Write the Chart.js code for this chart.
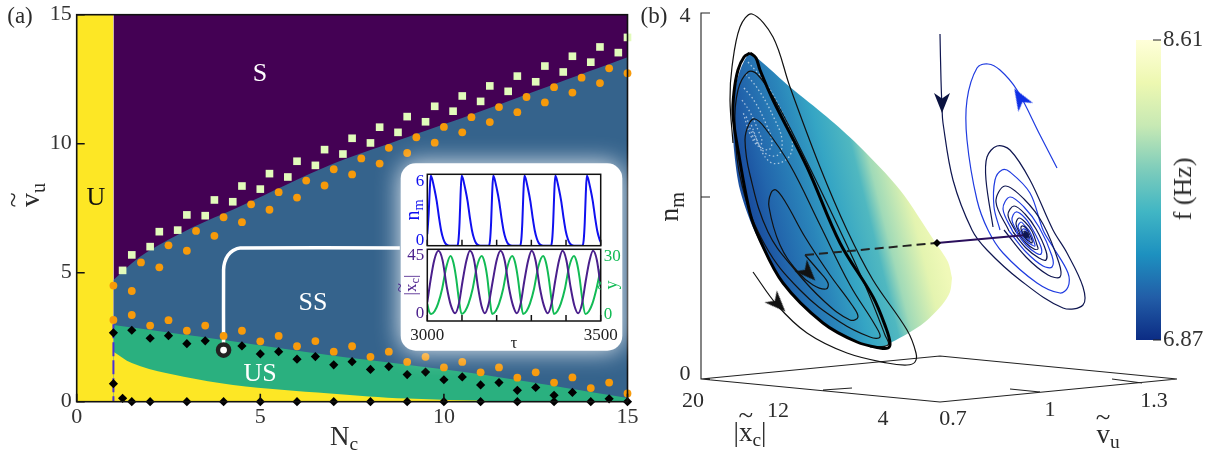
<!DOCTYPE html>
<html>
<head>
<meta charset="utf-8">
<script src="https://cdn.jsdelivr.net/npm/chart.js@4"></script>
<style>
  html, body { margin: 0; padding: 0; background: #fff; }
  #page { position: relative; width: 1217px; height: 459px; overflow: hidden; font-family: "Liberation Serif", serif; color: #2b2b2b; }
  canvas { position: absolute; }
  .t { position: absolute; transform: translate(-50%, -50%); white-space: nowrap; line-height: 1; }
  .r { transform: translate(-50%, -50%) rotate(-90deg); }
  .tl { position: relative; display: inline-block; }
  .tl i { position: absolute; left: 50%; top: -0.62em; transform: translateX(-50%); font-style: normal; }
  sub { font-size: 0.72em; line-height: 0; vertical-align: -0.28em; }
</style>
</head>
<body>
<div id="page">
  <canvas id="mainChart" style="left:0;top:0"></canvas>
  <canvas id="nmChart" style="left:400px;top:164px"></canvas>
  <canvas id="xyChart" style="left:400px;top:240px"></canvas>
  <canvas id="cycleChart" style="left:640px;top:0"></canvas>
  <canvas id="barChart" style="left:1120px;top:20px"></canvas>

  <div class="t" style="left:20px;top:15px;font-size:23px">(a)</div>
  <div class="t" style="left:654px;top:15px;font-size:23px">(b)</div>
  <div class="t" style="left:96px;top:197px;font-size:26px;color:#111">U</div>
  <div class="t" style="left:260px;top:73px;font-size:26px;color:#fff">S</div>
  <div class="t" style="left:313px;top:302px;font-size:26px;color:#fff">SS</div>
  <div class="t" style="left:260px;top:373px;font-size:26px;color:#fff">US</div>
  <div class="t r" style="left:30px;top:195px;font-size:28px"><span class="tl">v<i>~</i></span><sub>u</sub></div>
  <div class="t" style="left:344px;top:436px;font-size:27px">N<sub>c</sub></div>

  <div class="t r" style="left:412px;top:210px;font-size:20px;color:#1010f0">n<sub>m</sub></div>
  <div class="t r" style="left:410px;top:285px;font-size:17px;color:#4a1f8c">|<span class="tl">x<i>~</i></span><sub>c</sub>|</div>
  <div class="t r" style="left:611px;top:285px;font-size:18px;color:#12bb55"><span class="tl">y<i>~</i></span></div>
  <div class="t" style="left:514px;top:342px;font-size:17px">τ</div>

  <div class="t" style="left:685px;top:15px;font-size:22px">4</div>
  <div class="t" style="left:685px;top:373px;font-size:22px">0</div>
  <div class="t r" style="left:669px;top:207px;font-size:28px">n<sub>m</sub></div>
  <div class="t" style="left:693px;top:400px;font-size:22px">20</div>
  <div class="t" style="left:778px;top:410px;font-size:22px">12</div>
  <div class="t" style="left:883px;top:418px;font-size:22px">4</div>
  <div class="t" style="left:953px;top:418px;font-size:22px">0.7</div>
  <div class="t" style="left:1050px;top:409px;font-size:22px">1</div>
  <div class="t" style="left:1154px;top:400px;font-size:22px">1.3</div>
  <div class="t" style="left:750px;top:432px;font-size:27px">|<span class="tl">x<i>~</i></span><sub>c</sub>|</div>
  <div class="t" style="left:1108px;top:434px;font-size:27px"><span class="tl">v<i>~</i></span><sub>u</sub></div>
  <div class="t r" style="left:1183px;top:189px;font-size:26px">f (Hz)</div>
</div>

<script>
// panel (a): region boundaries
const capX = [1, 15];
const capY = [15, 15];
const unstableBandX = [0, 1];
const unstableBandY = [15, 15];
const saddleTopX = [1, 1.5, 2, 3, 4.5, 6.9, 8.8, 10.7, 12.8, 15];
const saddleTopY = [4.72, 5.37, 5.88, 6.65, 7.6, 9.17, 10.15, 11.1, 12.2, 13.35];
const usTopX = [1, 4, 6.9, 10.8, 15];
const usTopY = [2.97, 2.39, 1.8, 1.1, 0.14];
const usBottomX = [1, 1.5, 2.46, 4.26, 6.9, 9, 12];
const usBottomY = [1.94, 1.5, 1.1, 0.65, 0.32, 0.12, 0];

// panel (a): markers
const squareX = [1.25, 1.5, 2, 2.25, 2.75, 3, 3.5, 3.75, 4.25, 4.5, 5, 5.25, 5.75, 6, 6.5, 6.75, 7.25, 7.5, 8, 8.25, 8.75, 9, 9.5, 9.75, 10.25, 10.5, 11, 11.25, 11.75, 12, 12.5, 12.75, 13.25, 13.5, 14, 14.25, 14.75, 15];
const squareY = [5.09, 5.69, 6.01, 6.59, 6.65, 7.24, 7.21, 7.82, 7.75, 8.36, 8.24, 8.84, 8.71, 9.32, 9.16, 9.77, 9.6, 10.21, 10.03, 10.64, 10.44, 11.05, 10.85, 11.45, 11.26, 11.85, 11.64, 12.24, 12.03, 12.62, 12.4, 13.01, 12.78, 13.39, 13.16, 13.75, 13.53, 14.12];
const orangeUpperX = [1, 1.5, 1.75, 2.25, 2.5, 3, 3.25, 3.75, 4, 4.5, 4.75, 5.25, 5.5, 6, 6.25, 6.75, 7, 7.5, 7.75, 8.25, 8.5, 9, 9.25, 9.75, 10, 10.5, 10.75, 11.25, 11.5, 12, 12.25, 12.75, 13, 13.5, 13.75, 14.25, 14.5, 15];
const orangeUpperY = [4.5, 4.29, 5.4, 5.21, 6.06, 5.85, 6.62, 6.43, 7.15, 6.96, 7.65, 7.44, 8.12, 7.91, 8.57, 8.38, 9.01, 8.81, 9.43, 9.23, 9.84, 9.64, 10.25, 10.04, 10.65, 10.44, 11.03, 10.84, 11.42, 11.22, 11.81, 11.6, 12.19, 11.98, 12.56, 12.35, 12.92, 12.73];
const orangeLowerX = [1, 1.5, 2, 2.5, 3, 3.5, 4, 4.5, 5, 5.5, 6, 6.5, 7, 7.5, 8, 8.5, 9, 9.5, 10, 10.5, 11, 11.5, 12, 12.5, 13, 13.5, 14, 14.5, 15];
const orangeLowerY = [3.17, 3.36, 2.95, 3.16, 2.75, 2.95, 2.55, 2.75, 2.34, 2.55, 2.15, 2.35, 1.94, 2.15, 1.74, 1.94, 1.54, 1.74, 1.33, 1.54, 1.14, 1.33, 0.93, 1.14, 0.74, 0.94, 0.53, 0.74, 0.32];
const diamondX = [1, 1.5, 2, 2.5, 3, 3.5, 4.5, 5, 5.5, 6, 6.5, 7, 7.5, 8, 8.5, 9, 9.5, 10, 10.5, 11, 11.5, 12, 12.5, 13, 13.5, 14.5, 1, 1.25, 1.5, 2, 3, 4, 5, 6, 7, 8, 9, 10, 11, 12, 13, 14, 15];
const diamondY = [2.67, 2.77, 2.46, 2.56, 2.25, 2.36, 2.16, 1.85, 1.94, 1.65, 1.75, 1.43, 1.55, 1.25, 1.36, 1.05, 1.15, 0.85, 0.96, 0.65, 0.74, 0.44, 0.55, 0.25, 0.36, 0.11, 0.7, 0.13, 0, 0, 0, 0, 0, 0, 0, 0, 0, 0, 0, 0, 0, 0, 0];
const hopfLineX = [1, 1];
const hopfLineY = [3, 0];
const connectorX = [4, 4, 4.03, 4.12, 4.26, 4.45, 8.8];
const connectorY = [2, 5.1, 5.4, 5.68, 5.86, 5.96, 5.96];
const pickedX = [4];
const pickedY = [2];
const xTicksMain = [0, 5, 10, 15];

// inset time series
const nmTau = [3000, 3004, 3007, 3010, 3014, 3020, 3027, 3034, 3040, 3046, 3052, 3060, 3070,
  3087, 3090, 3093, 3096, 3099, 3103, 3109, 3116, 3123, 3129, 3135, 3141, 3149, 3159,
  3178, 3181, 3184, 3187, 3190, 3194, 3200, 3207, 3214, 3220, 3226, 3232, 3240, 3250,
  3268, 3271, 3274, 3277, 3280, 3284, 3290, 3297, 3304, 3310, 3316, 3322, 3330, 3340,
  3357, 3360, 3363, 3366, 3369, 3373, 3379, 3386, 3393, 3399, 3405, 3411, 3419, 3429,
  3448, 3451, 3454, 3457, 3460, 3464, 3470, 3477, 3484, 3490, 3496, 3500];
const nmValue = [1, 2.8, 4.8, 6.1, 5.8, 5, 3.9, 2.4, 1.3, 0.6, 0.2, 0.03, 0,
  0, 0.5, 2, 4.5, 6.1, 5.8, 5, 3.9, 2.4, 1.3, 0.6, 0.2, 0.03, 0,
  0, 0.5, 2, 4.5, 6.1, 5.8, 5, 3.9, 2.4, 1.3, 0.6, 0.2, 0.03, 0,
  0, 0.5, 2, 4.5, 6.1, 5.8, 5, 3.9, 2.4, 1.3, 0.6, 0.2, 0.03, 0,
  0, 0.5, 2, 4.5, 6.1, 5.8, 5, 3.9, 2.4, 1.3, 0.6, 0.2, 0.03, 0,
  0, 0.5, 2, 4.5, 6.1, 5.8, 5, 3.9, 2.4, 1.3, 0.6, 0.3];
const xcTau = [3000, 3010, 3020, 3032, 3044, 3056, 3068, 3080, 3091, 3102, 3113, 3123, 3135, 3146, 3156, 3166, 3177, 3189, 3200, 3211, 3223, 3235, 3247, 3258, 3269, 3280, 3291, 3301, 3312, 3324, 3336, 3347, 3358, 3369, 3380, 3390, 3401, 3413, 3424, 3435, 3446, 3457, 3468, 3478, 3489, 3500];
const xcValue = [12, 27, 39, 45, 39, 22, 10, 5, 11, 26, 39, 45, 39, 22, 10, 5, 11, 26, 39, 45, 39, 22, 10, 5, 11, 26, 39, 45, 39, 22, 10, 5, 11, 26, 39, 45, 39, 22, 10, 5, 11, 26, 39, 45, 39, 22];
const yTau = [3000, 3005, 3011, 3021, 3031, 3043, 3055, 3067, 3075, 3083, 3091, 3099, 3109, 3119, 3131, 3143, 3157, 3165, 3173, 3180, 3187, 3197, 3207, 3219, 3231, 3245, 3253, 3261, 3269, 3276, 3286, 3296, 3308, 3320, 3334, 3342, 3350, 3358, 3365, 3375, 3385, 3397, 3409, 3423, 3431, 3439, 3447, 3456, 3466, 3476, 3488, 3500];
const yValue = [8, 4.5, 3.2, 4.5, 8, 15, 25, 29.9, 27, 20, 10, 3.2, 4.5, 8, 15, 25, 29.9, 27, 20, 10, 3.2, 4.5, 8, 15, 25, 29.9, 27, 20, 10, 3.2, 4.5, 8, 15, 25, 29.9, 27, 20, 10, 3.2, 4.5, 8, 15, 25, 29.9, 27, 20, 10, 3.2, 4.5, 8, 15, 24];
const tauTickLabels = ['3000', '', '', '', '', '3500'];
const nmTickAt = [0.45, 5.6];
const nmTickText = ['0', '6'];
const xcTickAt = [4.5, 41.7];
const xcTickText = ['0', '45'];
const yTickAt = [3.2, 29.6];
const yTickText = ['0', '30'];

const surfaceTopX = [733, 735, 741, 750, 763, 790, 827, 858, 900, 935, 948, 952];
const surfaceTopY = [120, 90, 68, 54, 63, 87, 117, 145, 190, 242, 262, 278];
const surfaceBottomX = [733, 734, 740, 755, 783, 823, 857, 880, 892, 907, 925, 942, 950, 952];
const surfaceBottomY = [120, 150, 190, 232, 283, 323, 342, 348, 342, 334, 322, 305, 292, 278];
const moireWhiteX = [748, 765, 782, 792, 788, 770, 752, null, 746, 760, 774, 782, 778, 764, 750, null, 744, 755, 766, 772, 768, 756, 746, null, 742, 750, 758, 762, 758, 750, 743];
const moireWhiteY = [62, 82, 112, 138, 158, 162, 130, null, 74, 92, 118, 140, 155, 152, 122, null, 88, 102, 124, 142, 150, 142, 116, null, 100, 112, 130, 142, 146, 134, 112];
const limitCycleX = [750, 744, 738, 734, 733, 738, 750, 760, 783, 823, 857, 880, 888, 890, 886, 873, 840, 807, 773, 760, 756, 750];
const limitCycleY = [53, 57, 70, 92, 115, 150, 213, 240, 283, 323, 342, 348, 348, 343, 328, 297, 243, 167, 100, 70, 58, 53];
const spiralX = [805, 818, 828, 826, 813, 798, 780, 769, 771, 776, 786, 805, 830, 852, 858, 850, 825, 795, 768, 750, 745, 749, 755, 765, 790, 820, 850, 875, 880, 870, 840, 800, 765, 742, 735, 738, 748, 757, 775, 800, 835, 865, 885, 888, 870];
const spiralY = [255, 270, 283, 289, 285, 272, 245, 207, 193, 190, 203, 237, 275, 305, 317, 320, 302, 270, 232, 175, 140, 124, 119, 128, 165, 225, 285, 325, 337, 337, 322, 290, 245, 185, 125, 90, 72, 74, 100, 148, 220, 285, 335, 345, 347];
const outerPathX = [753, 777, 807, 847, 887, 907, 915, 916, 907, 873, 847, 820, 790, 773, 752, 740, 732, 730, 733];
const outerPathY = [272, 305, 333, 353, 363, 365, 362, 353, 330, 280, 230, 167, 87, 37, 14, 27, 67, 100, 143];
const wallNavyX = [940, 941, 942, 943, 953, 972, 987, 1020, 1063, 1083, 1083, 1067, 1053, 1030, 1010, 997, 987, 986, 993, null,
  1004, 1026, 1048, 1060, 1059, 1043, 1024, 1005, 996, 1009, null,
  1013, 1026, 1039, 1046, 1046, 1036, 1025, 1014, 1008, 1016, null,
  1018, 1026, 1034, 1038, 1037, 1032, 1025, 1019, 1016, 1020, null,
  1022, 1026, 1030, 1032, 1032, 1029, 1026, 1022, 1021, 1023, null,
  1024, 1026, 1028, 1029, 1029, 1027, 1026, 1024, 1024, 1026];
const wallNavyY = [34, 80, 107, 123, 180, 230, 250, 280, 308, 305, 287, 253, 230, 180, 150, 146, 157, 180, 227, null,
  230, 257, 275, 277, 263, 224, 199, 186, 202, 231, null,
  232, 248, 258, 260, 251, 229, 214, 206, 215, 232, null,
  233, 243, 249, 249, 245, 231, 222, 218, 224, 234, null,
  234, 239, 242, 243, 240, 233, 228, 226, 229, 234, null,
  235, 237, 238, 238, 237, 234, 232, 231, 232, 235];
const wallBlueX = [1057, 1040, 1017, 1000, 988, 977, 967, 967, 977, 988, 1003, 1037, 1060, 1068, 1068, 1053, 1043, 1030, 1010, 1002, 995, 994, 1000, null,
  1009, 1026, 1043, 1052, 1052, 1039, 1024, 1010, 1003, 1013, null,
  1016, 1026, 1036, 1041, 1041, 1033, 1025, 1016, 1012, 1018, null,
  1020, 1026, 1032, 1035, 1034, 1030, 1025, 1021, 1018, 1022, null,
  1023, 1026, 1029, 1030, 1030, 1028, 1026, 1023, 1022, 1024];
const wallBlueY = [168, 135, 90, 70, 64, 68, 100, 140, 200, 230, 253, 283, 293, 287, 273, 247, 230, 193, 172, 170, 180, 207, 230, null,
  231, 252, 266, 267, 256, 227, 207, 197, 209, 232, null,
  232, 245, 253, 254, 247, 230, 218, 212, 220, 233, null,
  234, 241, 245, 246, 242, 232, 226, 222, 227, 234, null,
  234, 238, 240, 240, 239, 234, 230, 229, 231, 235];
const dashedX = [805, 937];
const dashedY = [255, 243];
const projectionX = [937, 1026];
const projectionY = [243, 235];
const axisLinesX = [710, 701, 701, 710, null, 701, 710, null, 701, 940, 1177, 940, 701, null, 823, 852, null, 1010, 1040, null, 1112, 1142];
const axisLinesY = [13, 13, 379, 379, null, 197, 197, null, 379, 402, 379, 356, 379, null, 390, 388, null, 389, 392, null, 379, 383];
const arrowNavyX = [942], arrowNavyY = [103];
const arrowBlueX = [1020], arrowBlueY = [98];
const arrowBlackX = [808, 778], arrowBlackY = [273, 304];
const crossingX = [937], crossingY = [243];
const fixedPointX = [1026], fixedPointY = [235];

// colour bar
const freqRange = [6.87, 8.61];
const freqStops = ['#0c2c84', '#225ea8', '#1d91c0', '#41b6c4', '#7fcdbb', '#c7e9b4', '#edf8b1', '#ffffd9'];

Chart.defaults.font.family = '"Liberation Serif", serif';
Chart.defaults.animation = false;
Chart.defaults.responsive = false;
Chart.defaults.layout.autoPadding = false;
Chart.defaults.plugins.legend.display = false;
Chart.defaults.plugins.tooltip.enabled = false;

function zip(xs, ys) {
  return xs.map((x, i) => ({ x: x, y: ys[i] }));
}

function sizeCanvas(id, w, h) {
  const c = document.getElementById(id);
  c.width = w;
  c.height = h;
  c.style.width = w + 'px';
  c.style.height = h + 'px';
}

function line(xs, ys, color, width, extra) {
  return Object.assign({ type: 'line', data: zip(xs, ys), borderColor: color, borderWidth: width, pointRadius: 0, fill: false, tension: 0 }, extra);
}

function area(xs, ys, color, tension) {
  return { type: 'line', data: zip(xs, ys), backgroundColor: color, borderWidth: 0, pointRadius: 0, fill: 'origin', tension: tension };
}

function dots(xs, ys, style, radius, color, extra) {
  return Object.assign({ type: 'line', data: zip(xs, ys), showLine: false, pointStyle: style, pointRadius: radius, pointBackgroundColor: color, pointBorderWidth: 0, clip: false }, extra);
}

// later datasets sit on top
function stack(list) {
  list.forEach((d, i) => { d.order = -i; });
  return list;
}

const frame = {
  id: 'frame',
  afterDatasetsDraw(chart, args, opts) {
    const a = chart.chartArea, ctx = chart.ctx;
    ctx.save();
    ctx.strokeStyle = opts.color || '#111';
    ctx.lineWidth = opts.width || 1.6;
    if (opts.box !== false) ctx.strokeRect(a.left, a.top, a.right - a.left, a.bottom - a.top);
    ctx.beginPath();
    Object.keys(opts.ticks || {}).forEach(id => {
      const scale = chart.scales[id], len = opts.ticks[id];
      scale.ticks.forEach(t => {
        const p = scale.getPixelForValue(t.value);
        if (scale.isHorizontal()) { ctx.moveTo(p, a.bottom); ctx.lineTo(p, a.bottom - len); }
        else if (scale.position === 'left') { ctx.moveTo(a.left, p); ctx.lineTo(a.left + len, p); }
        else { ctx.moveTo(a.right, p); ctx.lineTo(a.right - len, p); }
      });
    });
    ctx.stroke();
    ctx.restore();
  }
};

// white card behind the two insets
const insetCard = {
  id: 'insetCard',
  afterDatasetsDraw(chart) {
    const ctx = chart.ctx;
    ctx.save();
    ctx.fillStyle = '#fff';
    ctx.shadowColor = 'rgba(255,255,255,0.9)';
    ctx.shadowBlur = 24;
    ctx.beginPath();
    ctx.roundRect(400.7, 163.3, 221.6, 187.4, 15);
    ctx.fill();
    ctx.restore();
  }
};

// chart area has to land on exact pixels, so the scales keep no margins of their own
function fixedWidth(w) { return s => { s.width = w; s.paddingTop = 0; s.paddingBottom = 0; }; }
function fixedHeight(h) { return s => { s.height = h; s.paddingLeft = 0; s.paddingRight = 0; }; }
function placeTicks(at) { return s => { s.ticks = at.map(v => ({ value: v })); }; }
const noGrid = { display: false, drawTicks: false };
const noBorder = { display: false };

sizeCanvas('mainChart', 640, 459);
new Chart('mainChart', {
  type: 'line',
  data: {
    datasets: stack([
      area(capX, capY, '#440154', 0),
      area(saddleTopX, saddleTopY, '#35638c', 0.3),
      area(usTopX, usTopY, '#2ab07f', 0.3),
      area(usBottomX, usBottomY, '#fde725', 0.35),
      area(unstableBandX, unstableBandY, '#fde725', 0),
      line(hopfLineX, hopfLineY, '#4a2fd8', 2, { borderDash: [14, 4] }),
      line(connectorX, connectorY, '#fff', 3.5, { tension: 0.2 }),
      dots(squareX, squareY, 'rect', 5.4, '#e2fbbb'),
      dots(orangeUpperX, orangeUpperY, 'circle', 3.9, '#f79a0a'),
      dots(orangeLowerX, orangeLowerY, 'circle', 3.9, '#f79a0a'),
      dots(diamondX, diamondY, 'rectRot', 4.6, '#000'),
      dots(pickedX, pickedY, 'circle', 5.6, '#fff', { pointBorderWidth: 4.4, pointBorderColor: '#222' })
    ])
  },
  options: {
    layout: { padding: { top: 14.7, right: 12.5, left: 0, bottom: 0 } },
    scales: {
      x: {
        type: 'linear', min: 0, max: 15, afterFit: fixedHeight(57.3),
        grid: noGrid, border: noBorder,
        afterBuildTicks: placeTicks(xTicksMain),
        ticks: { font: { size: 22 }, color: '#333', padding: 2, maxRotation: 0, autoSkip: false }
      },
      y: {
        min: 0, max: 15, afterFit: fixedWidth(76.7),
        grid: noGrid, border: noBorder,
        ticks: { stepSize: 5, font: { size: 22 }, color: '#333', padding: 5 }
      }
    },
    plugins: { frame: { ticks: { x: 8, y: 8 } } }
  },
  plugins: [frame, insetCard]
});

sizeCanvas('nmChart', 222, 90);
new Chart('nmChart', {
  type: 'line',
  data: { datasets: [line(nmTau, nmValue, '#1010f0', 2, { cubicInterpolationMode: 'monotone' })] },
  options: {
    layout: { padding: { top: 10.3, right: 21.3 } },
    scales: {
      x: {
        type: 'linear', min: 3000, max: 3500, afterFit: fixedHeight(8.3),
        grid: noGrid, border: noBorder,
        ticks: { display: false, stepSize: 100 }
      },
      y: {
        min: 0, max: 6.2, afterFit: fixedWidth(27.3),
        grid: noGrid, border: noBorder,
        afterBuildTicks: placeTicks(nmTickAt),
        ticks: { callback: (v, i) => nmTickText[i], font: { size: 17 }, color: '#1010f0', padding: 3, autoSkip: false }
      }
    },
    plugins: { frame: { width: 1.5, ticks: { x: 6 } } }
  },
  plugins: [frame]
});

sizeCanvas('xyChart', 222, 110);
new Chart('xyChart', {
  type: 'line',
  data: {
    datasets: [
      line(xcTau, xcValue, '#4a1f8c', 2, { cubicInterpolationMode: 'monotone', yAxisID: 'y' }),
      line(yTau, yValue, '#12bb55', 2, { cubicInterpolationMode: 'monotone', yAxisID: 'y2' })
    ]
  },
  options: {
    layout: { padding: { top: 9.3 } },
    scales: {
      x: {
        type: 'linear', min: 3000, max: 3500, afterFit: fixedHeight(29),
        grid: noGrid, border: noBorder,
        ticks: { stepSize: 100, callback: (v, i) => tauTickLabels[i], font: { size: 17 }, color: '#222', padding: 4, maxRotation: 0, autoSkip: false }
      },
      y: {
        position: 'left', min: 0, max: 46, afterFit: fixedWidth(27.3),
        grid: noGrid, border: noBorder,
        afterBuildTicks: placeTicks(xcTickAt),
        ticks: { callback: (v, i) => xcTickText[i], font: { size: 17 }, color: '#4a1f8c', padding: 3, autoSkip: false }
      },
      y2: {
        position: 'right', min: 0, max: 33, afterFit: fixedWidth(21.3),
        grid: noGrid, border: noBorder,
        afterBuildTicks: placeTicks(yTickAt),
        ticks: { callback: (v, i) => yTickText[i], font: { size: 17 }, color: '#12bb55', padding: 3, autoSkip: false }
      }
    },
    plugins: { frame: { width: 1.5, ticks: { x: 6 } } }
  },
  plugins: [frame]
});

// stealth arrow head, pointing up
function arrowHead(color, w, h) {
  const c = document.createElement('canvas');
  c.width = w;
  c.height = h;
  const g = c.getContext('2d');
  g.fillStyle = color;
  g.beginPath();
  g.moveTo(w / 2, 0);
  g.lineTo(w, h);
  g.lineTo(w / 2, h * 0.72);
  g.lineTo(0, h);
  g.closePath();
  g.fill();
  return c;
}

function surfaceGradient(ctx) {
  const chart = ctx.chart;
  if (!chart.chartArea) return '#36a5c4';
  const sx = chart.scales.x, sy = chart.scales.y;
  const g = chart.ctx.createLinearGradient(sx.getPixelForValue(733), sy.getPixelForValue(132), sx.getPixelForValue(902), sy.getPixelForValue(90));
  g.addColorStop(0, '#1a4f9f');
  g.addColorStop(0.11, '#2265ac');
  g.addColorStop(0.31, '#2a85ba');
  g.addColorStop(0.47, '#35a5c4');
  g.addColorStop(0.64, '#50b8c0');
  g.addColorStop(0.72, '#a0dab8');
  g.addColorStop(0.89, '#e4f4b0');
  g.addColorStop(1, '#f0f9b8');
  return g;
}

sizeCanvas('cycleChart', 577, 459);
new Chart('cycleChart', {
  type: 'line',
  data: {
    datasets: stack([
      line(axisLinesX, axisLinesY, '#222', 1.1),
      Object.assign(line(surfaceTopX, surfaceTopY, 'transparent', 0, { tension: 0.3 }), { fill: '+1', backgroundColor: surfaceGradient }),
      line(surfaceBottomX, surfaceBottomY, 'transparent', 0, { tension: 0.3 }),
      line(moireWhiteX, moireWhiteY, 'rgba(255,255,255,0.6)', 1.3, { tension: 0.4, borderDash: [1.5, 2.5] }),
      line(outerPathX, outerPathY, '#111', 1.2, { tension: 0.35 }),
      line(spiralX, spiralY, '#111', 1.2, { tension: 0.4 }),
      line(limitCycleX, limitCycleY, '#000', 3, { tension: 0.35 }),
      line(wallBlueX, wallBlueY, '#1f3be0', 1.2, { tension: 0.35 }),
      line(wallNavyX, wallNavyY, '#0f1650', 1.2, { tension: 0.35 }),
      line(dashedX, dashedY, '#222', 2, { borderDash: [9, 5] }),
      line(projectionX, projectionY, '#2a0f5c', 2),
      dots(crossingX, crossingY, 'rectRot', 4, '#000'),
      dots(fixedPointX, fixedPointY, 'circle', 3, '#0f1650'),
      dots(arrowNavyX, arrowNavyY, arrowHead('#0a1240', 16, 20), 10, '#000', { pointRotation: 180 }),
      dots(arrowBlueX, arrowBlueY, arrowHead('#0f2fe6', 17, 22), 10, '#000', { pointRotation: -31 }),
      dots(arrowBlackX, arrowBlackY, arrowHead('#111', 17, 21), 10, '#000', { pointRotation: 136 })
    ])
  },
  options: {
    scales: {
      x: { type: 'linear', min: 640, max: 1217, display: false },
      y: { min: 0, max: 459, reverse: true, display: false }
    }
  }
});

sizeCanvas('barChart', 97, 340);
new Chart('barChart', {
  type: 'bar',
  data: {
    labels: ['f'],
    datasets: [{
      data: [freqRange],
      barPercentage: 1,
      categoryPercentage: 1,
      backgroundColor: ctx => {
        const a = ctx.chart.chartArea;
        if (!a) return freqStops[0];
        const g = ctx.chart.ctx.createLinearGradient(0, a.bottom, 0, a.top);
        freqStops.forEach((c, i) => g.addColorStop(i / (freqStops.length - 1), c));
        return g;
      }
    }]
  },
  options: {
    layout: { padding: { top: 20, bottom: 20, left: 16 } },
    scales: {
      x: { display: false },
      y: {
        position: 'right', min: freqRange[0], max: freqRange[1], afterFit: fixedWidth(56),
        grid: noGrid, border: noBorder,
        afterBuildTicks: placeTicks(freqRange),
        ticks: { callback: v => v.toFixed(2), font: { size: 23 }, color: '#333', padding: 2, autoSkip: false }
      }
    },
    plugins: { frame: { box: false, width: 1, color: '#222', ticks: { y: 8 } } }
  },
  plugins: [frame]
});
</script>
</body>
</html>
